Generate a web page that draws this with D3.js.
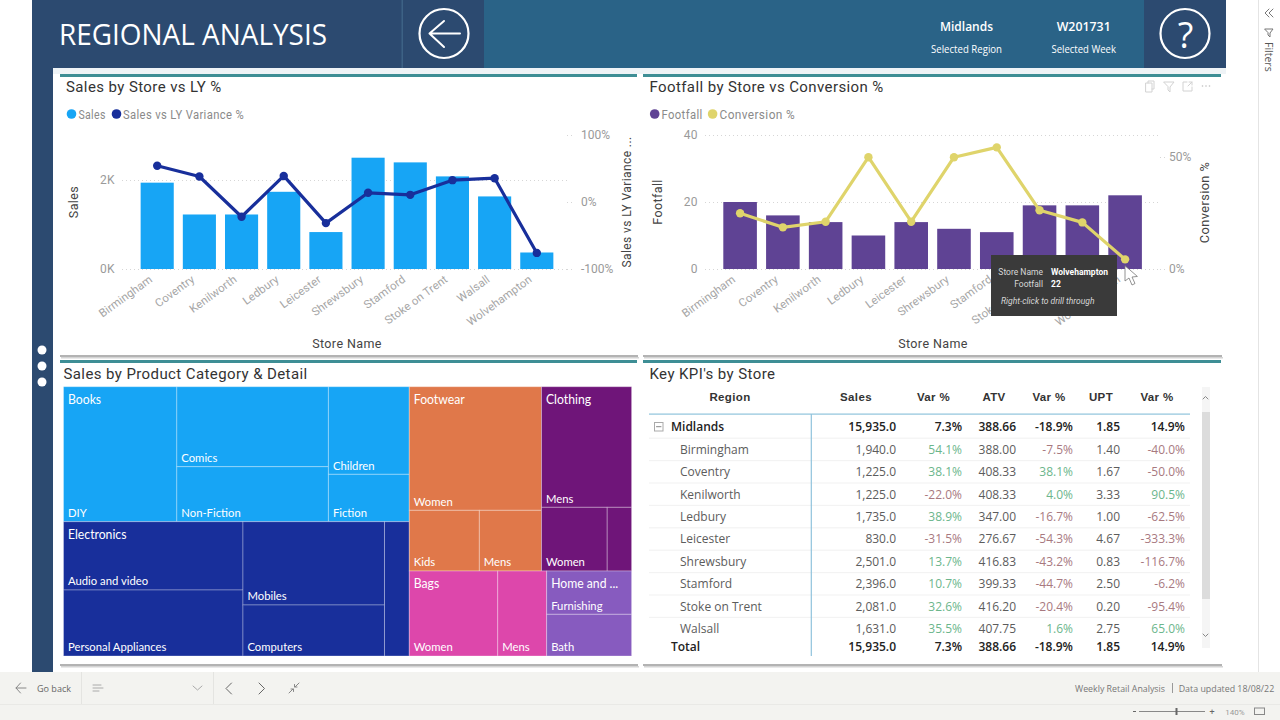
<!DOCTYPE html>
<html><head><meta charset="utf-8">
<script src="https://cdn.jsdelivr.net/npm/d3@7/dist/d3.min.js"></script>
<style>
html,body{margin:0;padding:0;background:#fff;overflow:hidden}
svg{display:block}
text{font-family:"Roboto",sans-serif}
.din{font-family:"Roboto",sans-serif;letter-spacing:.4px}
.seg{font-family:"Open Sans",sans-serif}
.lat{font-family:"Lato",sans-serif}
.tbl{font-family:"Open Sans",sans-serif;font-size:12px}
.hdr{font-family:"Liberation Sans",sans-serif;font-size:11.5px;font-weight:700;fill:#333;letter-spacing:.35px}
</style></head><body>
<svg id="c" width="1280" height="720" viewBox="0 0 1280 720"></svg>
<script>
// ---------- data ----------
const stores = ["Birmingham","Coventry","Kenilworth","Ledbury","Leicester","Shrewsbury","Stamford","Stoke on Trent","Walsall","Wolvehampton"];
const sales = [1940,1225,1225,1735,830,2501,2396,2081,1631,371];
const salesVar = [54.1,38.1,-22.0,38.9,-31.5,13.7,10.7,32.6,35.5,-76];
const footfall = [20,16,14,10,14,12,11,19,19,22];
const conversion = [24.9,18.6,21.1,49.9,21.1,49.9,54.3,26.2,20.8,4.3];
const atv = [388.00,408.33,408.33,347.00,276.67,416.83,399.33,416.20,407.75];
const atvVar = [-7.5,38.1,4.0,-16.7,-54.3,-43.2,-44.7,-20.4,1.6];
const upt = [1.40,1.67,3.33,1.00,4.67,0.83,2.50,0.20,2.75];
const uptVar = [-40.0,-50.0,90.5,-62.5,-333.3,-116.7,-6.2,-95.4,65.0];
const totals = {sales:15935.0,salesVar:7.3,atv:388.66,atvVar:-18.9,upt:1.85,uptVar:14.9};
const tableHeads = ["Sales","Var %","ATV","Var %","UPT","Var %"];

const booksNames = ["DIY","Comics","Non-Fiction","Children","Fiction"];
const booksValues = [1593,1263,868,738,399];
const elecNames = ["Audio and video","Personal Appliances","Mobiles","Computers",""];
const elecValues = [1277,1234,1228,752,347];
const footNames = ["Women","Kids","Mens"];
const footValues = [1702,443,393];
const clothNames = ["Mens","Women",""];
const clothValues = [1132,436,162];
const bagsNames = ["Women","Mens"];
const bagsValues = [783,433];
const homeNames = ["Furnishing","Bath"];
const homeValues = [383,369];

// ---------- palette ----------
const NAVY="#2c4a70", TEAL="#2a6387", RULE="#3e8e95";
const BLUE="#17a5f5", DKBLUE="#182f9b", PURPLE="#5f4394", YELLOW="#dfd46b";
const ORANGE="#e0784a", PLUM="#6f1579", PINK="#dd47ab", VIOLET="#875bbf";
const GREEN="#6cb68c", RED="#a8797f";

const svg=d3.select("#c");
const rect=(g,x,y,w,h,f)=>g.append("rect").attr("x",x).attr("y",y).attr("width",w).attr("height",h).attr("fill",f);
const txt=(g,x,y,s,o={})=>{const t=g.append("text").attr("x",x).attr("y",y).text(s)
  .attr("fill",o.fill||"#333").attr("font-size",o.size||12).attr("text-anchor",o.anchor||"start");
  if(o.cls)t.attr("class",o.cls); if(o.weight)t.attr("font-weight",o.weight); if(o.style)t.attr("font-style",o.style);
  if(o.rot!=null)t.attr("transform",`rotate(${o.rot} ${x} ${y})`); if(o.len)t.attr("textLength",o.len).attr("lengthAdjust","spacingAndGlyphs"); return t;};
const path=(g,d,s,w=1,f="none")=>g.append("path").attr("d",d).attr("fill",f).attr("stroke",s).attr("stroke-width",w).attr("stroke-linecap","round").attr("stroke-linejoin","round");

// ---------- page frame ----------
rect(svg,32,0,1194,68,NAVY);
rect(svg,484,0,660,68,TEAL);
rect(svg,1144,0,82,68,NAVY);
rect(svg,401.5,0,1.5,68,"#3d6285");
rect(svg,32,68,21,604,NAVY);
rect(svg,53,68,1173,6,"#eef3f6");
txt(svg,59,45,"REGIONAL ANALYSIS",{fill:"#fff",size:29,cls:"seg",len:268});
svg.append("circle").attr("cx",444).attr("cy",33.5).attr("r",24.5).attr("fill","none").attr("stroke","#fff").attr("stroke-width",2.2);
path(svg,"M429.5 33.5H460M444 21L429.5 33.5L444 47","#fff",2);
svg.append("circle").attr("cx",1185).attr("cy",33.5).attr("r",24.5).attr("fill","none").attr("stroke","#fff").attr("stroke-width",2.2);
txt(svg,1185.5,47.5,"?",{fill:"#fff",size:36,anchor:"middle",cls:"seg"});
txt(svg,966.5,31,"Midlands",{fill:"#fff",size:13,anchor:"middle",weight:600,cls:"seg",len:53});
txt(svg,966.5,53,"Selected Region",{fill:"#fff",size:10.5,anchor:"middle",cls:"seg",len:71});
txt(svg,1083.7,31,"W201731",{fill:"#fff",size:13,anchor:"middle",weight:600,cls:"seg",len:54});
txt(svg,1083.7,53,"Selected Week",{fill:"#fff",size:10.5,anchor:"middle",cls:"seg",len:64.5});
[350,366,382].forEach(y=>svg.append("circle").attr("cx",42).attr("cy",y).attr("r",4.5).attr("fill","#fff"));

// filter pane
rect(svg,1258,0,1,672,"#e4e4e4");
path(svg,"M1269 9L1265 13L1269 17M1273 9L1269 13L1273 17","#777",1);
path(svg,"M1265 29H1273L1270 33V37L1268 35V33Z","#777",1);
txt(svg,1265,42,"Filters",{fill:"#555",size:10.5,rot:90,cls:"seg"});

// panels
function panel(x,y,w,h,line=true){
  rect(svg,x,y+h,w+1,2,"#a0a0a0").attr("opacity",.8);
  rect(svg,x+1,y+h+2,w+1,1.5,"#d4d4d4");
  rect(svg,x,y,w,h,"#fff");
  if(line) rect(svg,x,y,w,3,RULE);
}
panel(60,74,577,281); panel(643,74,578,281);
panel(60,360,577,304); panel(643,360,578,304);

// ---------- combo chart ----------
function combo(o){
  const g=svg.append("g");
  txt(g,o.titleX,92,o.title,{size:15,cls:"din",fill:"#333"});
  o.legend.forEach(l=>{g.append("circle").attr("cx",l.cx).attr("cy",114).attr("r",4.8).attr("fill",l.color);
    txt(g,l.tx,118.5,l.label,{fill:"#8a8a8a",size:12.5,cls:"din",len:l.len});});
  const x=d3.scaleBand().domain(stores).range(o.xRange).paddingInner(.215).paddingOuter(.11);
  const yL=d3.scaleLinear().domain(o.leftDomain).range(o.leftRange);
  const yR=d3.scaleLinear().domain(o.rightDomain).range([269,o.rightTop]);
  // left axis + gridlines
  const la=g.append("g").attr("transform",`translate(${o.gridL},0)`)
    .call(d3.axisLeft(yL).tickValues(o.leftTicks).tickFormat(o.leftFmt).tickSize(-(o.gridR-o.gridL)).tickPadding(7));
  la.select(".domain").remove();
  la.selectAll("line").attr("stroke","#d6d6d6").attr("stroke-dasharray","1 3");
  la.selectAll("text").attr("fill","#9a9a9a").attr("font-size",12).attr("class","din");
  // right axis
  const ra=g.append("g").attr("transform",`translate(${o.gridR+5},0)`)
    .call(d3.axisRight(yR).tickValues(o.rightTicks).tickFormat(v=>v+"%").tickSize(0).tickPadding(o.rightPad));
  ra.select(".domain").remove();
  ra.selectAll("text").attr("fill","#9a9a9a").attr("font-size",12).attr("class","din").style("letter-spacing","0");
  ra.selectAll(".tick").append("line").attr("x1",-5).attr("x2",0).attr("stroke","#d6d6d6").attr("stroke-dasharray","1 3");
  // bars
  g.append("g").selectAll("rect").data(o.bars).join("rect")
    .attr("x",(d,i)=>x(stores[i])).attr("width",x.bandwidth())
    .attr("y",d=>yL(d)).attr("height",d=>yL(0)-yL(d)).attr("fill",o.barColor);
  // x axis labels
  const xa=g.append("g").attr("transform","translate(0,269)").call(d3.axisBottom(x).tickSize(0).tickPadding(0));
  xa.select(".domain").remove();
  xa.selectAll("text").attr("fill","#a6a6a6").attr("font-size",11.4).attr("class","din").style("letter-spacing","0.1px")
    .attr("text-anchor","end").attr("dy",0).attr("transform","translate(-4,12) rotate(-36)");
  // line
  const ln=d3.line().x((d,i)=>x(stores[i])+x.bandwidth()/2).y(d=>yR(d));
  g.append("path").datum(o.line).attr("d",ln).attr("fill","none").attr("stroke",o.lineColor).attr("stroke-width",3.2).attr("stroke-linejoin","round");
  g.append("g").selectAll("circle").data(o.line).join("circle")
    .attr("cx",(d,i)=>x(stores[i])+x.bandwidth()/2).attr("cy",d=>yR(d)).attr("r",4.2).attr("fill",o.lineColor);
  // axis titles
  txt(g,o.leftTitleX,o.leftTitleY,o.leftTitle,{size:12.5,anchor:"middle",rot:-90,fill:"#444",cls:"din"});
  txt(g,o.rightTitleX,o.rightTitleY,o.rightTitle,{size:o.rightTitleSize,anchor:"middle",rot:-90,fill:"#444",cls:"din"});
  txt(g,o.xTitleX,348,"Store Name",{size:12.5,anchor:"middle",fill:"#444",cls:"din"});
}
combo({title:"Sales by Store vs LY %",titleX:66,
  legend:[{cx:71.5,tx:78.4,len:27.3,color:BLUE,label:"Sales"},{cx:116.5,tx:123,len:121,color:DKBLUE,label:"Sales vs LY Variance %"}],
  xRange:[136,558],bars:sales,barColor:BLUE,
  leftDomain:[0,3000],leftRange:[269,135.5],leftTicks:[0,2000],leftFmt:v=>(v/1000)+"K",
  gridL:122,gridR:567,
  rightDomain:[-100,100],rightTop:135,rightTicks:[-100,0,100],rightPad:9,
  line:salesVar,lineColor:DKBLUE,
  leftTitle:"Sales",leftTitleX:78,leftTitleY:202,
  rightTitle:"Sales vs LY Variance ...",rightTitleSize:12,rightTitleX:630.5,rightTitleY:202,xTitleX:347});
combo({title:"Footfall by Store vs Conversion %",titleX:649.5,
  legend:[{cx:654.7,tx:661.6,len:41,color:PURPLE,label:"Footfall"},{cx:712.6,tx:719.6,len:75.5,color:YELLOW,label:"Conversion %"}],
  xRange:[718.6,1146.6],bars:footfall,barColor:PURPLE,
  leftDomain:[0,40],leftRange:[269,135],leftTicks:[0,20,40],leftFmt:d3.format("d"),
  gridL:705,gridR:1160,
  rightDomain:[0,60],rightTop:134.6,rightTicks:[0,50],rightPad:4,
  line:conversion,lineColor:YELLOW,
  leftTitle:"Footfall",leftTitleX:662,leftTitleY:202,
  rightTitle:"Conversion %",rightTitleSize:12.8,rightTitleX:1208.5,rightTitleY:202.5,xTitleX:933});

// visual header icons
const ic=svg.append("g").attr("opacity",.75);
path(ic,"M1146 83H1152V92H1146ZM1148 83V81H1154V89H1152","#c4c4c4",1);
path(ic,"M1164 82H1174L1170 87V92L1168 90V87Z","#c4c4c4",1);
path(ic,"M1187 82H1183V91H1192V87M1188 86L1192 82M1189 82H1192V85","#c4c4c4",1);
[1202.5,1206,1209.5].forEach(x=>ic.append("circle").attr("cx",x).attr("cy",86).attr("r",.8).attr("fill","#aaa"));

// tooltip
const tip=svg.append("g");
rect(tip,991,255,126,61,"#3a3a3a");
const tc="#d8d8d8";
txt(tip,1043,275,"Store Name",{fill:tc,size:8.5,anchor:"end"});
txt(tip,1051,275,"Wolvehampton",{fill:"#fff",size:8.5,weight:700});
txt(tip,1043,287,"Footfall",{fill:tc,size:8.5,anchor:"end"});
txt(tip,1051,287,"22",{fill:"#fff",size:8.5,weight:700});
txt(tip,1001,304,"Right-click to drill through",{fill:tc,size:8.5,style:"italic"});
path(svg,"M1125 266L1125 281L1129 278L1132 285L1135 283.5L1132 277L1137 276.5Z","#777",.8,"#fff");

// ---------- treemap ----------
const leaf=(n,v)=>({name:n,value:v});
const leaves=(ns,vs)=>ns.map((n,i)=>leaf(n,vs[i]));
const cat=(name,color,children)=>({name,color,children,isCat:true});
const B=leaves(booksNames,booksValues),E=leaves(elecNames,elecValues),F=leaves(footNames,footValues),
      C=leaves(clothNames,clothValues),G=leaves(bagsNames,bagsValues),H=leaves(homeNames,homeValues);
const tree={children:[
  {children:[
    cat("Books",BLUE,[B[0],{children:[B[1],B[2]]},{children:[B[3],B[4]]}]),
    cat("Electronics",DKBLUE,[{children:[E[0],E[1]]},{children:[E[2],E[3]]},E[4]])]},
  {children:[
    {children:[
      cat("Footwear",ORANGE,[F[0],{children:[F[1],F[2]]}]),
      cat("Clothing",PLUM,[C[0],{children:[C[1],C[2]]}])]},
    {children:[
      cat("Bags",PINK,[{children:[G[0],G[1]]}]),
      cat("Home and ...",VIOLET,[H[0],H[1]])]}]}]};
const root=d3.hierarchy(tree).sum(d=>d.value||0);
d3.treemap().size([568.1,269.3])
  .tile((n,x0,y0,x1,y1)=>(n.depth%2?d3.treemapSlice:d3.treemapDice)(n,x0,y0,x1,y1))(root);
const tm=svg.append("g").attr("transform","translate(63.5,386.7)");
const catOf=n=>n.ancestors().find(a=>a.data.isCat);
tm.selectAll("rect").data(root.leaves()).join("rect")
  .attr("x",d=>d.x0).attr("y",d=>d.y0).attr("width",d=>d.x1-d.x0).attr("height",d=>d.y1-d.y0)
  .attr("fill",d=>catOf(d).data.color).attr("stroke","rgba(255,255,255,.3)").attr("stroke-width",1);
const condense=function(){this.setAttribute("lengthAdjust","spacingAndGlyphs");this.setAttribute("textLength",this.getComputedTextLength()*.925);};
tm.selectAll("text.leaf").data(root.leaves().filter(d=>d.data.name)).join("text").attr("class","leaf lat")
  .attr("x",d=>d.x0+4.5).attr("y",d=>d.y1-4.5).text(d=>d.data.name).attr("fill","#fff").attr("font-size",12.2).each(condense);
tm.selectAll("text.cat").data(root.descendants().filter(d=>d.data.isCat)).join("text").attr("class","cat lat")
  .attr("x",d=>d.x0+4.5).attr("y",d=>d.y0+17).text(d=>d.data.name).attr("fill","#fff").attr("font-size",13.2).each(condense);
txt(svg,63.5,378.5,"Sales by Product Category & Detail",{size:15,cls:"din",fill:"#333"});

// ---------- KPI table ----------
const T=svg.append("g");
txt(T,649.5,378.5,"Key KPI's by Store",{size:15,cls:"din",fill:"#333"});
const colRight=[896,962,1016,1073,1120,1185];
const headX=[856,933.5,994,1049,1101,1157];
txt(T,730,401,"Region",{anchor:"middle",cls:"hdr"});
tableHeads.forEach((h,i)=>txt(T,headX[i],401,h,{anchor:"middle",cls:"hdr"}));
const rowY=d3.scaleLinear().domain([0,9]).range([427,628.6]);
d3.range(0,9).forEach(i=>rect(T,649,rowY(i)+10.6,541,1.2,"#f3f3f3"));
rect(T,649,413.5,541,1.2,"#8fc3dc");
rect(T,810.7,414,1.2,242,"#8fc3dc");
const hy=s=>s.replace(/\u2212/g,"-");
const pct=v=>hy(d3.format(".1f")(v))+"%", signCol=v=>v<0?RED:GREEN;
const row=(y,label,lx,vals,bold)=>{
  txt(T,lx,y+4.4,label,{cls:"tbl",fill:bold?"#222":"#5c5c5c",weight:bold?600:null});
  const str=[d3.format(",.1f")(vals[0]),pct(vals[1]),d3.format(".2f")(vals[2]),pct(vals[3]),d3.format(".2f")(vals[4]),pct(vals[5])];
  str.forEach((s,i)=>{const colored=i%2==1&&!bold;
    txt(T,colRight[i],y+4.4,s,{cls:"tbl",anchor:"end",fill:bold?"#222":(colored?signCol(vals[i]):"#5c5c5c"),weight:bold?600:null});});
};
const tot=[totals.sales,totals.salesVar,totals.atv,totals.atvVar,totals.upt,totals.uptVar];
row(rowY(0),"Midlands",671,tot,true);
d3.range(9).forEach(i=>row(rowY(i+1),stores[i],680,[sales[i],salesVar[i],atv[i],atvVar[i],upt[i],uptVar[i]],false));
row(646.5,"Total",671,tot,true);
T.append("rect").attr("x",654.5).attr("y",422.5).attr("width",8.5).attr("height",8.5).attr("fill","none").attr("stroke","#aaa");
path(T,"M656.5 426.7H661","#888",1);
rect(T,1202,387,8,261,"#f5f5f5");
rect(T,1202,412,8,187,"#dcdcdc");
path(T,"M1203 399L1205.5 396.5L1208 399","#888",1);
path(T,"M1203 634L1205.5 636.5L1208 634","#888",1);

// ---------- bottom bar ----------
const bar=svg.append("g");
rect(bar,0,672,1280,48,"#f3f3f0");
rect(bar,0,704,1280,1,"#e9e9e6");
rect(bar,81,672,1,32,"#e4e4e1"); rect(bar,213,672,1,32,"#e4e4e1");
path(bar,"M16 688H26M20.5 683L16 688L20.5 693","#888",1);
txt(bar,37,692,"Go back",{fill:"#666",size:9.5,cls:"seg",len:34});
path(bar,"M93 685H101M93 688H103M93 691H99","#aaa",1);
path(bar,"M193 686L197.5 690L202 686","#aaa",1);
path(bar,"M231.5 683L226 688.5L231.5 694","#666",1);
path(bar,"M259 683L264.5 688.5L259 694","#666",1);
path(bar,"M289 693L293 689M291 689H293.5V691.5M299 683L295 687M297 687H294.5V684.5","#888",1);
txt(bar,1075,692,"Weekly Retail Analysis",{fill:"#777",size:9.5,cls:"seg",len:90});
rect(bar,1172,683,1,10,"#999");
txt(bar,1178.7,692,"Data updated 18/08/22",{fill:"#777",size:9.5,cls:"seg",len:95.5});
rect(bar,1133,711,3,1,"#666");
rect(bar,1139,711,66,1,"#888");
rect(bar,1175.5,708,2,7,"#666");
txt(bar,1212,714.5,"+",{fill:"#666",size:9,anchor:"middle"});
txt(bar,1235,714.5,"140%",{fill:"#999",size:8,anchor:"middle"});
bar.append("rect").attr("x",1254.5).attr("y",708).attr("width",10).attr("height",6.5).attr("fill","none").attr("stroke","#888");
</script>
</body></html>
